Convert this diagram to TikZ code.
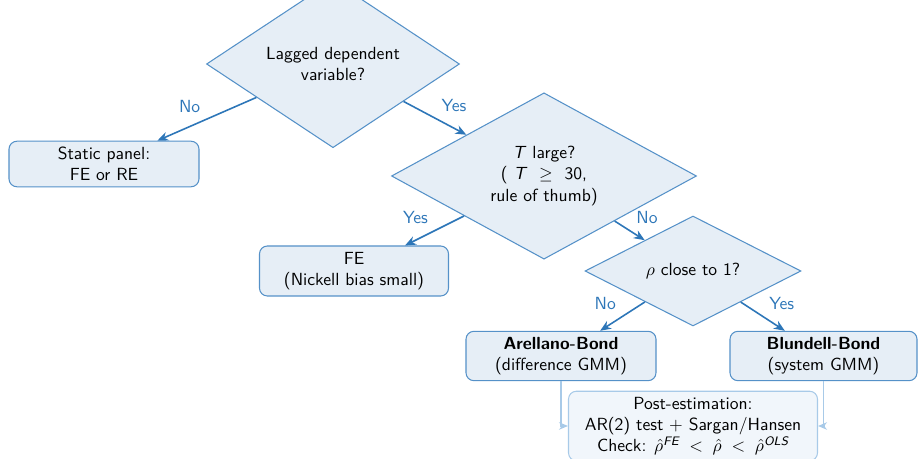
\documentclass[tikz,border=0pt]{standalone}
\usepackage{amsmath}
\usepackage{amssymb}
\usepackage{tikz}
\usetikzlibrary{shapes.geometric,arrows.meta}
\definecolor{edgeblue}{RGB}{85,145,200}
\definecolor{fillblue}{RGB}{230,238,246}
\definecolor{arrblue}{RGB}{45,118,184}
\definecolor{postfill}{RGB}{241,246,251}
\definecolor{postedge}{RGB}{168,202,232}
\newcommand{\sfit}[1]{\textsf{\itshape #1}}

\begin{document}
\begin{tikzpicture}[font=\sffamily,
    decision/.style={diamond, draw=edgeblue, fill=fillblue, line width=0.6pt, inner sep=0pt, align=center},
    result/.style={rectangle, rounded corners=4.5pt, draw=edgeblue, fill=fillblue, line width=0.6pt,
        align=center, minimum width=3.8cm, minimum height=0.96cm},
    flow/.style={-{Stealth[length=2.2mm,width=1.8mm]}, draw=arrblue, line width=0.9pt},
    answer/.style={text=arrblue}]
            \useasboundingbox (0,0) rectangle (18.38,9.18);
            \node[decision, minimum width=5.06cm, minimum height=2.3cm] (lagged) at (6.66,7.9) {Lagged dependent\\variable?};
            \node[result, minimum height=0.88cm] (static) at (2.08,5.9) {Static panel:\\FE or RE};
            \node[decision, minimum width=6.1cm, minimum height=2.76cm] (tlarge) at (10.88,5.66)
                {\sfit{T} large?\\(~\sfit{T} ~$\geq$~ 30,\\rule of thumb)};
            \node[result, minimum width=3.78cm, minimum height=1cm] (fe) at (7.08,3.76) {FE\\(Nickell bias small)};
            \node[decision, minimum width=4.32cm, minimum height=1.96cm] (rho) at (13.86,3.76) {$\rho$ close to 1?};
            \node[result] (ab) at (11.22,2.06) {\textbf{Arellano-Bond}\\(difference GMM)};
            \node[result, minimum width=3.74cm] (bb) at (16.47,2.06) {\textbf{Blundell-Bond}\\(system GMM)};
            \node[rectangle, rounded corners=4.5pt, draw=postedge, fill=postfill, line width=0.6pt, align=center,
                minimum width=4.98cm, minimum height=1.38cm] (post) at (13.86,0.66)
                {Post-estimation:\\AR(2) test $+$ Sargan/Hansen\\Check: $\hat{\rho}^{\sfit{FE}}\;<\;\hat{\rho}\;<\;\hat{\rho}^{\sfit{OLS}}$};
            \draw[flow] (lagged) -- node[answer, above left]{No} (static);
            \draw[flow] (lagged) -- node[answer, above right]{Yes} (tlarge);
            \draw[flow] (tlarge) -- node[answer, above left]{Yes} (fe);
            \draw[flow] (tlarge) -- node[answer, above right]{No} (rho);
            \draw[flow] (rho) -- node[answer, above left]{No} (ab);
            \draw[flow] (rho) -- node[answer, above right]{Yes} (bb);
            \draw[-{Stealth[length=1.8mm,width=1.5mm]}, draw=postedge, line width=0.8pt] (ab.south) |- (post.west);
            \draw[-{Stealth[length=1.8mm,width=1.5mm]}, draw=postedge, line width=0.8pt] (bb.south) |- (post.east);
        \end{tikzpicture}
\end{document}
